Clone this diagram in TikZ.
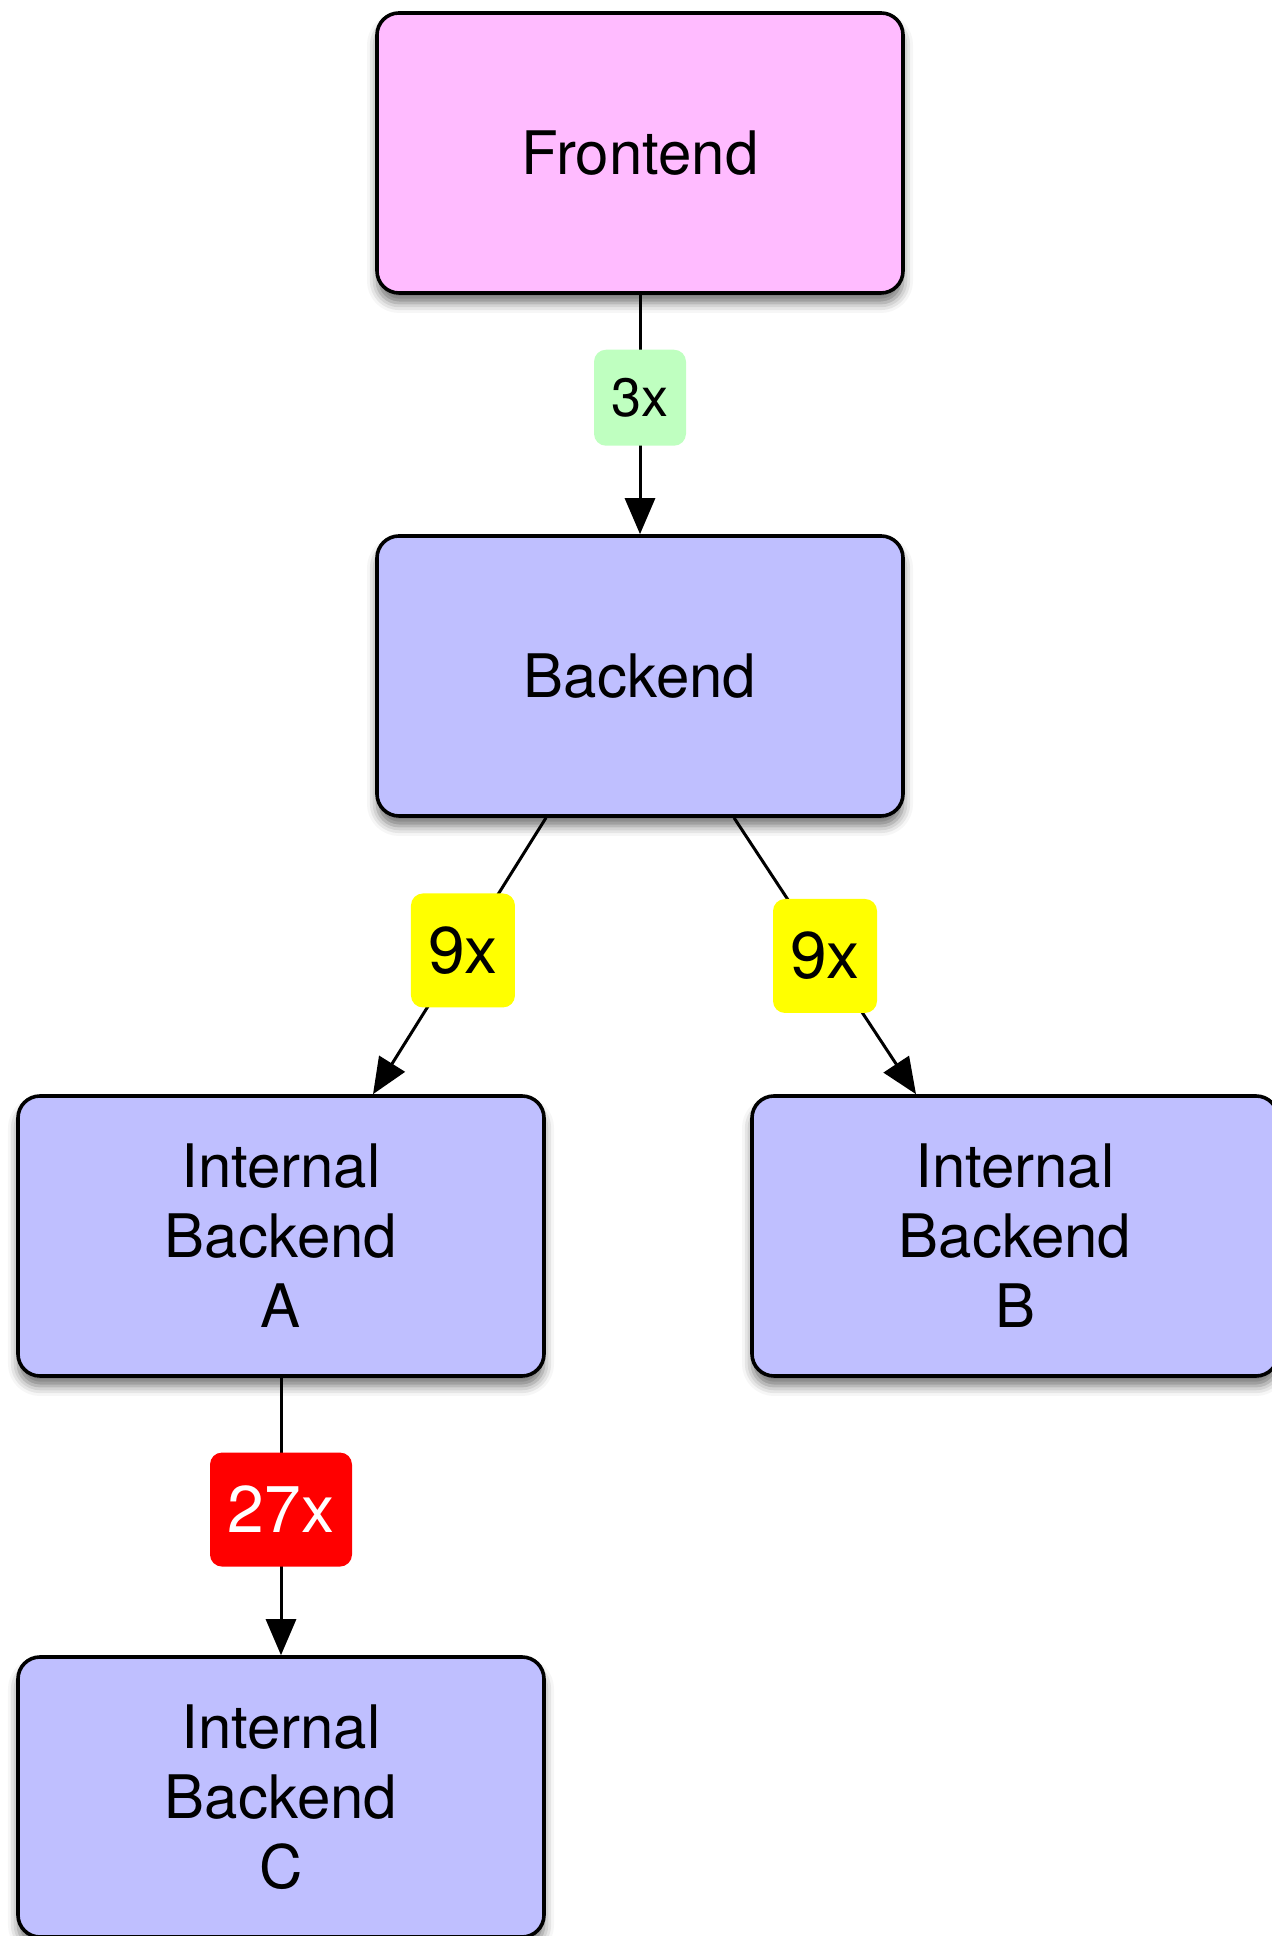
\documentclass[tikz,border=0pt]{standalone}
\usepackage{fontspec}
\setmainfont{TeX Gyre Heros}
\usetikzlibrary{arrows.meta,shadows.blur}
\definecolor{frontpink}{RGB}{255,187,255}
\definecolor{backblue}{RGB}{191,191,255}
\definecolor{taggreen}{RGB}{191,255,192}
\definecolor{tagyellow}{RGB}{255,255,0}
\definecolor{tagred}{RGB}{255,0,0}
\tikzset{
  box/.style={draw=black, line width=1.8pt, rounded corners=11pt,
    minimum width=263pt, minimum height=140pt, align=center,
    font=\fontsize{30}{35}\selectfont,
    blur shadow={shadow xshift=0pt, shadow yshift=-5pt, shadow blur radius=5pt, shadow opacity=55}},
  frontbox/.style={box, fill=frontpink},
  backbox/.style={box, fill=backblue},
  tag/.style={rounded corners=6pt, inner sep=0pt, font=\fontsize{33}{33}\selectfont},
  link/.style={line width=1.5pt, -{Triangle[length=18pt,width=15pt]}}
}
\begin{document}
\begin{tikzpicture}[x=0.5pt, y=0.5pt]
    \useasboundingbox (0,0) rectangle (1272,1936);
    \node[frontbox] (front) at (640,1783) {Frontend};
    \node[backbox] (back) at (640,1260) {Backend};
    \node[backbox] (intA) at (281,700) {Internal\\Backend\\A};
    \node[backbox] (intB) at (1015,700) {Internal\\Backend\\B};
    \node[backbox] (intC) at (281,139) {Internal\\Backend\\C};
    \draw[link] (front.south) -- node[pos=0.43, tag, fill=taggreen, minimum width=46pt, minimum height=48pt, font=\fontsize{27}{27}\selectfont] (t3) {3x} (back.north);
    \draw[link] ([xshift=-47pt]back.south) -- node[pos=0.48, tag, fill=tagyellow, minimum width=52pt, minimum height=57pt] (t9a) {9x} ([xshift=46pt]intA.north);
    \draw[link] ([xshift=47pt]back.south) -- node[pos=0.5, tag, fill=tagyellow, minimum width=52pt, minimum height=57pt] (t9b) {9x} ([xshift=-49.5pt]intB.north);
    \draw[link] (intA.south) -- node[pos=0.475, tag, fill=tagred, text=white, minimum width=71pt, minimum height=57pt] (t27) {27x} (intC.north);
\end{tikzpicture}
\end{document}
